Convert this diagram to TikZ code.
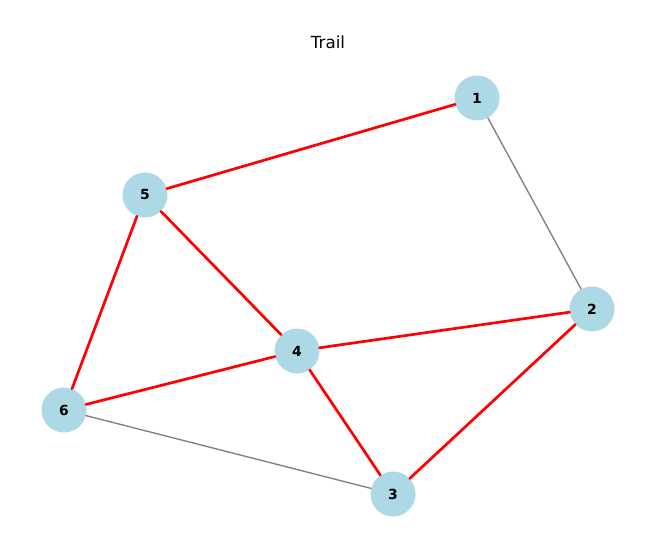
\documentclass[tikz,border=0pt]{standalone}
\usepackage{fontspec}
\setmainfont{DejaVu Sans}
\definecolor{nodeblue}{RGB}{173,216,230}

\begin{document}
\begin{tikzpicture}[x=1pt, y=-1pt, line cap=round, line join=round,
    vert/.style={circle, fill=nodeblue, minimum size=45pt, inner sep=0pt,
                 font=\fontsize{13.9}{16}\selectfont\bfseries},
    trail/.style={red, line width=2.7pt},
    rest/.style={gray, line width=1.35pt}]
  % cỡ khung hình
  \useasboundingbox (0,0) rectangle (665,535);

  % Tiêu đề
  \node[font=\fontsize{16.7}{19}\selectfont] (title) at (328,42) {Trail};

  % Các đỉnh
  \node[vert] (n1) at (477,98)  {1};
  \node[vert] (n2) at (592,309) {2};
  \node[vert] (n3) at (393,494) {3};
  \node[vert] (n4) at (297,351) {4};
  \node[vert] (n5) at (145,195) {5};
  \node[vert] (n6) at (64,410)  {6};

  % Cạnh không thuộc đường đi
  \draw[rest] (n1) -- (n2);
  \draw[rest] (n6) -- (n3);

  % Cạnh của đường đi (trail)
  \foreach \a/\b in {1/5, 5/4, 5/6, 4/2, 4/6, 4/3, 3/2}
    \draw[trail] (n\a) -- (n\b);
\end{tikzpicture}
\end{document}
